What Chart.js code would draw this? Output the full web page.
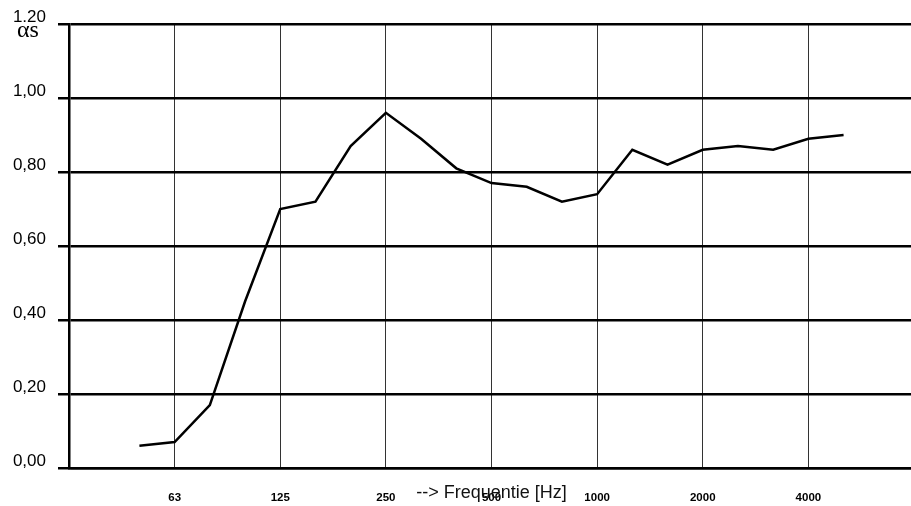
<!DOCTYPE html>
<html>
<head>
<meta charset="utf-8">
<title>Absorptie</title>
<script src="https://cdn.jsdelivr.net/npm/chart.js@4/dist/chart.umd.min.js"></script>
<style>
  html, body { margin: 0; padding: 0; background: #fff; overflow: hidden; }
  #wrap { width: 914px; height: 506px; position: relative; }
</style>
</head>
<body>
<div id="wrap"><canvas id="absorption-chart"></canvas></div>
<script>
// 1/3 octave bands, index on the x axis
const bands = [
  "31.5", "40", "50", "63", "80", "100", "125", "160", "200", "250", "315",
  "400", "500", "630", "800", "1000", "1250", "1600", "2000", "2500", "3150",
  "4000", "5000", "6300", "8000",
];
const measuredBands = [
  "50", "63", "80", "100", "125", "160", "200", "250", "315", "400", "500",
  "630", "800", "1000", "1250", "1600", "2000", "2500", "3150", "4000", "5000",
];
const alphaS = [
  0.06, 0.07, 0.17, 0.45, 0.7, 0.72, 0.87, 0.96, 0.89, 0.81, 0.77,
  0.76, 0.72, 0.74, 0.86, 0.82, 0.86, 0.87, 0.86, 0.89, 0.9,
];
const xTickLabels = ["63", "125", "250", "500", "1000", "2000", "4000"];
const yTicks = [0, 0.2, 0.4, 0.6, 0.8, 1.0, 1.2];
const xTitle = "--> Frequentie [Hz]";
const yTitle = "\u03b1s";

const overlayText = {
  id: "overlayText",
  afterDraw(chart) {
    const ctx = chart.ctx;
    const area = chart.chartArea;
    const x = chart.scales.x;
    ctx.save();
    // axis title sits on top of the tick labels, centred on 500 Hz
    ctx.fillStyle = "#111";
    ctx.font = "18px 'Liberation Sans', Arial, sans-serif";
    ctx.textAlign = "center";
    ctx.textBaseline = "alphabetic";
    ctx.fillText(xTitle, x.getPixelForValue(bands.indexOf("500")), area.bottom + 30);

    // alpha-s label box covers part of the top tick label
    ctx.fillStyle = "#fff";
    ctx.fillRect(12, area.top - 2, 40, 20);
    ctx.fillStyle = "#000";
    ctx.font = "24px 'Liberation Serif', 'Times New Roman', serif";
    ctx.textAlign = "left";
    ctx.fillText(yTitle, 17, area.top + 13);
    ctx.restore();
  },
};

const ctx = document.getElementById("absorption-chart").getContext("2d");
new Chart(ctx, {
  type: "line",
  data: {
    datasets: [
      {
        data: measuredBands.map((b, i) => ({ x: bands.indexOf(b), y: alphaS[i] })),
        borderColor: "#000",
        borderWidth: 2.5,
        pointRadius: 0,
        tension: 0,
        fill: false,
      },
    ],
  },
  options: {
    responsive: true,
    maintainAspectRatio: false,
    animation: false,
    layout: {
      padding: { top: 24, right: 0, bottom: 0, left: 0 },
    },
    plugins: {
      legend: { display: false },
      tooltip: { enabled: false },
    },
    scales: {
      x: {
        type: "linear",
        min: 0,
        max: bands.length - 1,
        afterBuildTicks: (scale) => {
          scale.ticks = xTickLabels.map((l) => ({ value: bands.indexOf(l) }));
        },
        afterFit: (scale) => {
          scale.height = 38;
        },
        ticks: {
          callback: (value) => bands[value],
          color: "#000",
          font: { family: "'Liberation Sans', Arial, sans-serif", size: 11.5, weight: "bold" },
          padding: 23,
          maxRotation: 0,
          autoSkip: false,
        },
        grid: {
          color: "#333",
          lineWidth: 1,
          drawTicks: false,
        },
        border: { display: true, color: "#000", width: 2.5 },
      },
      y: {
        min: 0,
        max: 1.2,
        afterBuildTicks: (scale) => {
          scale.ticks = yTicks.map((v) => ({ value: v }));
        },
        afterFit: (scale) => {
          scale.width = 69;
        },
        ticks: {
          callback: (value) => value.toFixed(2).replace(".", ","),
          color: "#000",
          font: { family: "'Liberation Sans', Arial, sans-serif", size: 17 },
          padding: 12,
          labelOffset: -7,
        },
        grid: {
          color: "#000",
          lineWidth: 2.5,
          tickLength: 11,
        },
        border: { display: true, color: "#000", width: 2.5 },
      },
    },
  },
  plugins: [overlayText],
});
</script>
</body>
</html>
